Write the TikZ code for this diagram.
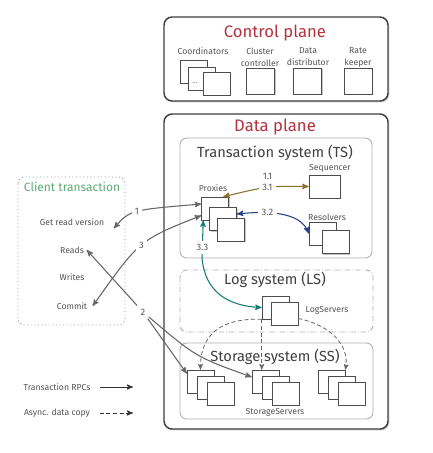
\documentclass[tikz,border=0pt]{standalone}
\usepackage{fontspec}
\setmainfont{Fira Sans}
\usepackage{tikz}
\usetikzlibrary{arrows,positioning,shadows}

\definecolor{planered}{RGB}{178,52,62}
\definecolor{clientgreen}{RGB}{95,170,115}
\definecolor{linkbrown}{RGB}{140,112,45}
\definecolor{linkblue}{RGB}{40,65,140}
\definecolor{linkteal}{RGB}{20,125,120}
\definecolor{txtgray}{RGB}{85,85,85}

\begin{document}
\begin{tikzpicture}[x=0.75pt,y=-0.75pt,node distance=6pt,>=stealth']
		\tikzstyle{srv}=[rectangle, draw=black!70, fill=white, inner sep=0pt, minimum width=20.25pt, minimum height=17.25pt, drop shadow={shadow xshift=0.8pt,shadow yshift=-0.8pt,opacity=0.45}]
		\tikzstyle{ctl}=[srv, minimum width=21pt, minimum height=19.5pt]
		\tikzstyle{small}=[font=\fontsize{6.5}{9}\selectfont, text=txtgray, inner sep=2pt]
		\tikzstyle{lbl}=[font=\fontsize{7}{8}\selectfont, text=txtgray, inner sep=2.5pt]
		\tikzstyle{plane}=[draw=black!75, line width=1.1pt, rounded corners=6pt, fill=white, drop shadow={shadow xshift=1pt,shadow yshift=-1pt,opacity=0.4}]
		\tikzstyle{sys}=[draw=black!30, line width=0.7pt, rounded corners=5pt]
		\tikzstyle{plane title}=[font=\fontsize{12.5}{14}\selectfont, text=planered]
		\tikzstyle{sys title}=[font=\fontsize{11}{13}\selectfont, text=black!75]
		\tikzstyle{rpc}=[draw=black!60, line width=0.8pt]
		\tikzstyle{async}=[draw=black!60, line width=0.6pt, dash pattern=on 3pt off 2pt]

		\fill[white] (0,0) rectangle (432,453);
		\useasboundingbox (0,0) rectangle (432,453);

		% control plane
		\draw[plane] (164,17) rectangle (388,101);
		\node[plane title] (tcp) at (275,33) {Control plane};
		\node[small] (lcoord) at (203,51) {Coordinators};
		\node[small, align=center] (lcc) at (260,57) {Cluster\\controller};
		\node[small, align=center] (ldd) at (308,57) {Data\\distributor};
		\node[small, align=center] (lrk) at (358,57) {Rate\\keeper};
		\node[srv] (co1) at (193.5,71.5) {};
		\node[srv, on grid, below right=5.25pt and 6pt of co1] (co2) {};
		\node[font=\fontsize{5}{5}\selectfont, text=txtgray, inner sep=0pt] (dots) at (195,83) {...};
		\node[srv, on grid, below right=3.75pt and 11.25pt of co2] (co3) {};
		\node[ctl] (cc) at (260.5,81) {};
		\node[ctl] (dd) at (307.5,81) {};
		\node[ctl] (rk) at (358,81) {};

		% data plane
		\draw[plane] (164,114) rectangle (388,429);
		\node[plane title] (tdp) at (275,127) {Data plane};
		\draw[sys] (180,138) rectangle (372,258);
		\draw[sys, dash pattern=on 4pt off 1.5pt on 0.6pt off 1.5pt] (180,270) rectangle (373,332);
		\draw[sys] (180,343) rectangle (373,419);
		\node[sys title] (tts) at (275,153) {Transaction system (TS)};
		\node[sys title] (tls) at (275,280) {Log system (LS)};

		% transaction system
		\node[small] (lpx) at (213,188) {Proxies};
		\node[srv] (px1) at (215,208.5) {};
		\node[srv, on grid, below right=7.9pt and 6pt of px1] (px2) {};
		\node[srv, on grid, below right=7.9pt and 6pt of px2] (px3) {};
		\node[small] (lseq) at (330,168) {Sequencer};
		\node[srv, minimum width=23.25pt] (seq) at (324.5,186.5) {};
		\node[small] (lrs) at (327,217) {Resolvers};
		\node[srv] (rs1) at (322.5,233.5) {};
		\node[srv, on grid, below right=6.4pt and 9.75pt of rs1] (rs2) {};

		% log system
		\node[srv] (ls1) at (275.5,307.5) {};
		\node[srv, on grid, below right=4.5pt and 6.75pt of ls1] (ls2) {};
		\node[small] (lls) at (327,310) {LogServers};

		% storage system
		\node[srv] (s11) at (200.5,381.5) {};
		\node[srv, on grid, below right=4.5pt and 7.5pt of s11] (s12) {};
		\node[srv, on grid, below right=4.5pt and 7.5pt of s12] (s13) {};
		\node[srv] (s21) at (265.5,381.5) {};
		\node[srv, on grid, below right=4.5pt and 7.5pt of s21] (s22) {};
		\node[srv, on grid, below right=4.5pt and 7.5pt of s22] (s23) {};
		\node[srv] (s31) at (331.5,381.5) {};
		\node[srv, on grid, below right=4.5pt and 7.5pt of s31] (s32) {};
		\node[srv, on grid, below right=4.5pt and 7.5pt of s32] (s33) {};
		\node[small] (lss) at (275,412) {StorageServers};

		\draw[async,->] (ls1.south west) .. controls (220,318) and (200,335) .. (s11.north);
		\draw[async,->] (ls1.south west) -- (ls1.south west |- s21.north);
		\draw[async,->] (ls2.-20) .. controls (330,325) and (350,345) .. (s31.north east);
		\node[sys title] (tss) at (275,357) {Storage system (SS)};

		% client transaction
		\draw[draw=black!40, line width=0.7pt, dotted, rounded corners=5pt] (18,177) rectangle (125,325);
		\node[font=\fontsize{9}{10}\selectfont, text=clientgreen] (tct) at (72,187) {Client transaction};
		\node[small] (grv) at (72,222) {Get read version};
		\node[small] (reads) at (72,250) {Reads};
		\node[small] (writes) at (72,277) {Writes};
		\node[small] (commit) at (72,306) {Commit};

		% links
		\draw[rpc,<->] ([xshift=5pt]grv.south east) .. controls (130,210) .. (px1.162) node[lbl, fill=white, pos=0.5] (l1) {1};
		\draw[rpc,<->] ([xshift=2pt]commit.east) .. controls (139.5,240) .. (px1.207) node[lbl, fill=white, pos=0.5] (l3) {3};
		\node[lbl] (l2) at (143,312) {2};
		\draw[rpc,->] (l2) -- (reads.east);
		\draw[rpc,->] (l2) -- (s11.150);
		\draw[rpc,->] (l2) .. controls (196,357) .. (s21.162);

		\draw[linkbrown, line width=0.8pt, <->] (px1.55) .. controls (268,186) .. (seq.west) node[lbl, fill=white, pos=0.5] (l31) {3.1};
		\node[lbl, above=-2.5pt of l31] (l11) {1.1};
		\draw[linkblue, line width=0.8pt, <->] (px2.20) .. controls (265,211) and (300,211) .. (rs1.west) node[lbl, fill=white, pos=0.35] (l32) {3.2};
		\draw[linkteal, line width=0.8pt, <->] ([xshift=1.5pt]px1.south west) -- node[lbl, fill=white, pos=0.72] (l33) {3.3} (202,258) .. controls (205,292) and (228,306) .. (ls1.west);

		% legend
		\node[small] (leg1) at (57,387) {Transaction RPCs};
		\node[small] (leg2) at (57,413) {Async. data copy};
		\coordinate (leg1 end) at (133,387);
		\coordinate (leg2 end) at (133,413);
		\draw[draw=black!80, line width=0.7pt, ->] ([xshift=5pt]leg1.east) -- (leg1 end);
		\draw[draw=black!80, line width=0.7pt, dash pattern=on 3pt off 2pt, ->] ([xshift=5pt]leg2.east) -- (leg2 end);
	\end{tikzpicture}
\end{document}
